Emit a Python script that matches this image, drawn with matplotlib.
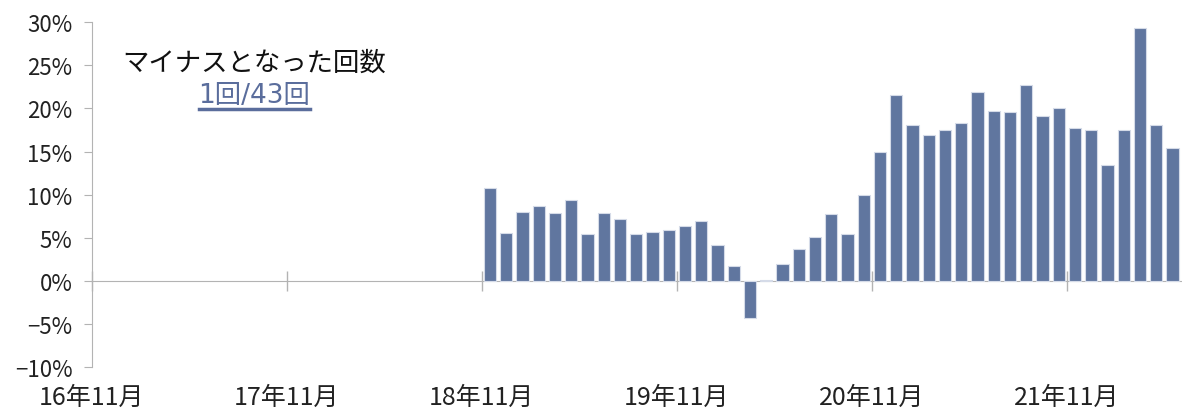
import matplotlib
matplotlib.use("Agg")
import matplotlib.pyplot as plt
from matplotlib.lines import Line2D
import numpy as np

plt.rcParams['font.family'] = ['Noto Sans CJK JP', 'DejaVu Sans']

# Data: monthly values (%) from 18年11月 to 22年5月; axis starts at 16年11月
axis_start_offset = 24  # months from 16年11月 to 18年11月
values = [10.8, 5.5, 8.0, 8.65, 7.9, 9.4, 5.4, 7.9, 7.2, 5.4, 5.7, 5.9, 6.4, 6.95,
          4.2, 1.75, -4.3, 0.05, 1.9, 3.7, 5.1, 7.7, 5.4, 9.95, 15.0, 21.6, 18.1,
          16.95, 17.45, 18.25, 21.9, 19.7, 19.55, 22.7, 19.15, 20.1, 17.75, 17.45,
          13.45, 17.45, 29.3, 18.1, 15.4]
total_months = 67
tick_labels = ['16年11月', '17年11月', '18年11月', '19年11月', '20年11月', '21年11月']
yticks = [-10, -5, 0, 5, 10, 15, 20, 25, 30]
note_title = 'マイナスとなった回数'
note_count = '1回/43回'

bar_color = '#60769f'
axis_color = '#b3b3b3'

fig = plt.figure(figsize=(11.82, 4.14), dpi=100)
ax = fig.add_axes([0.0778, 0.111, 0.921, 0.833])

x = np.arange(len(values)) + axis_start_offset + 0.5
ax.bar(x, values, width=0.76, color=bar_color, edgecolor='#d5dbe8', linewidth=0.8, zorder=2)

ax.set_xlim(0, total_months)
ax.set_ylim(-10, 30)
ax.set_yticks(yticks)
ax.set_yticklabels([f'{v}%'.replace('-', '−') for v in yticks], fontsize=16)
ax.tick_params(axis='y', direction='out', length=6, color=axis_color, pad=8, labelcolor='#222222')

for s in ['top', 'right', 'bottom']:
    ax.spines[s].set_visible(False)
ax.spines['left'].set_color(axis_color)

ax.set_xticks(np.arange(0, total_months, 12))
ax.set_xticklabels(tick_labels, fontsize=18, color='#222222')
ax.tick_params(axis='x', length=0, pad=12)

# zero axis with crossing ticks
zero_frac = (0 - (-10)) / 40
sec = ax.secondary_xaxis(zero_frac)
sec.set_xticks(np.arange(0, total_months, 12))
sec.set_xticklabels([])
sec.tick_params(direction='inout', length=14, color=axis_color, width=1)
sec.spines['bottom'].set_color(axis_color)
sec.spines['top'].set_visible(False)
for s in ['left', 'right']:
    sec.spines[s].set_visible(False)

ax.text(10.0, 25.4, note_title, ha='center', va='center', fontsize=19, color='#111111')
t2 = ax.text(10.0, 21.5, note_count, ha='center', va='center', fontsize=19,
             color='#5a6d9c', family=['DejaVu Sans', 'Noto Sans CJK JP'])

fig.canvas.draw()
bb = t2.get_window_extent()
inv = fig.transFigure.inverted()
(x0, y0) = inv.transform((bb.x0, bb.y0 - 1))
(x1, _) = inv.transform((bb.x1, bb.y0 - 1))
fig.add_artist(Line2D([x0, x1], [y0, y0], transform=fig.transFigure, color='#5a6d9c', linewidth=2.5))

fig.savefig('out.png', dpi=100)
